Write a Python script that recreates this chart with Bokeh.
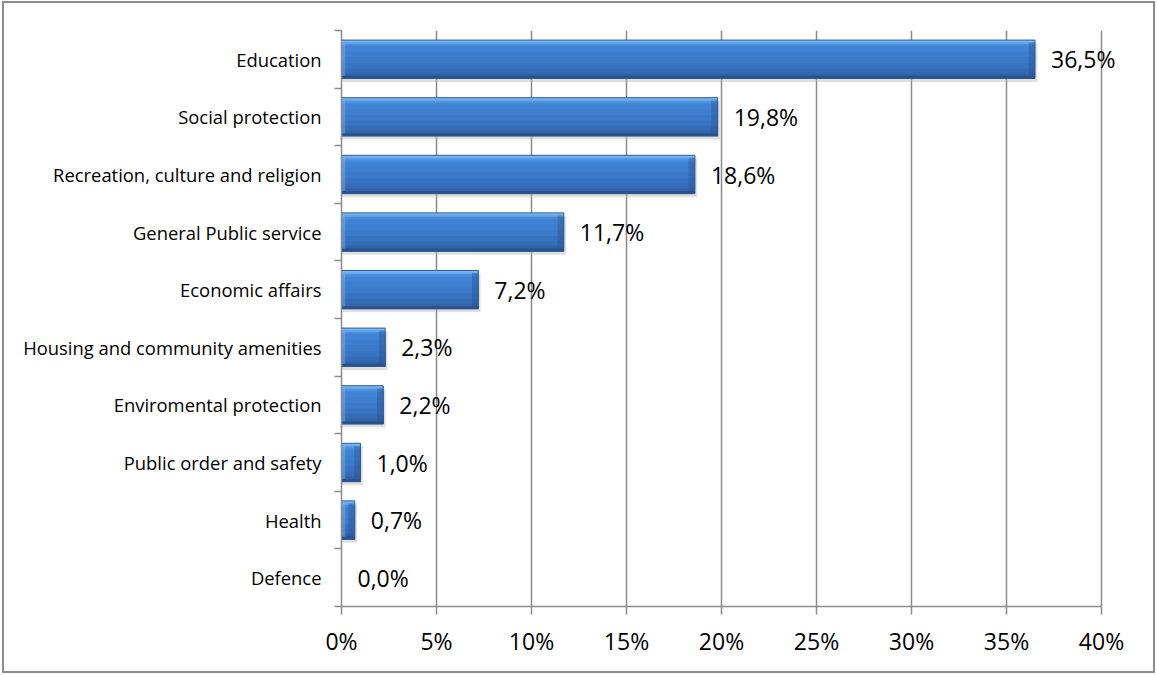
from bokeh.plotting import figure
from bokeh.models import Range1d, FixedTicker, ColumnDataSource, Label
from bokeh.embed import file_html
from bokeh.resources import INLINE

# ---------------- data ----------------
categories = [
    "Education",
    "Social protection",
    "Recreation, culture and religion",
    "General Public service",
    "Economic affairs",
    "Housing and community amenities",
    "Enviromental protection",
    "Public order and safety",
    "Health",
    "Defence",
]
shares = [36.5, 19.8, 18.6, 11.7, 7.2, 2.3, 2.2, 1.0, 0.7, 0.0]
share_labels = ["36,5%", "19,8%", "18,6%", "11,7%", "7,2%", "2,3%", "2,2%", "1,0%", "0,7%", "0,0%"]
x_ticks = [0, 5, 10, 15, 20, 25, 30, 35, 40]
x_tick_labels = ["0%", "5%", "10%", "15%", "20%", "25%", "30%", "35%", "40%"]

n = len(categories)
centers = [i + 0.5 for i in range(n)]
boundaries = [i for i in range(n + 1)]
BAR_H = 0.667

GRID = "#8a8a8a"
FONT = "Open Sans"

# frame is 807 px wide; the axis itself spans 0..40 over 760 px
X_MAX = x_ticks[-1]
x_end = X_MAX * 807 / 760

p = figure(
    width=1149, height=668,
    x_range=Range1d(0, x_end), y_range=Range1d(n, 0),
    output_backend="svg", toolbar_location=None,
    min_border_left=337, min_border_right=5,
    min_border_top=27, min_border_bottom=65,
)
p.styles = {"outline": "2px solid #8c8c8c", "margin-left": "4px", "margin-top": "3px"}
p.background_fill_color = "white"
p.border_fill_color = "white"
p.outline_line_color = None

# x axis
p.xaxis.bounds = (0, X_MAX)
p.xaxis.ticker = FixedTicker(ticks=x_ticks, minor_ticks=[])
p.xaxis.major_label_overrides = {t: l for t, l in zip(x_ticks, x_tick_labels)}
p.xaxis.axis_line_color = GRID
p.xaxis.axis_line_width = 1.5
p.xaxis.major_tick_line_color = GRID
p.xaxis.major_tick_line_width = 1.5
p.xaxis.major_tick_out = 8
p.xaxis.major_tick_in = 0
p.xaxis.minor_tick_line_color = None
p.xaxis.major_label_text_font = FONT
p.xaxis.major_label_text_font_size = "23px"
p.xaxis.major_label_text_color = "black"
p.xaxis.major_label_standoff = 10

# y axis: labels at centers, ticks at band boundaries
p.yaxis.ticker = FixedTicker(ticks=centers, minor_ticks=boundaries)
p.yaxis.major_label_overrides = {c: cat for c, cat in zip(centers, categories)}
p.yaxis.axis_line_color = GRID
p.yaxis.axis_line_width = 1.5
p.yaxis.major_tick_line_color = None
p.yaxis.major_tick_out = 0
p.yaxis.major_tick_in = 0
p.yaxis.minor_tick_line_color = GRID
p.yaxis.minor_tick_line_width = 1.5
p.yaxis.minor_tick_out = 7
p.yaxis.minor_tick_in = 0
p.yaxis.major_label_text_font = FONT
p.yaxis.major_label_text_font_size = "18.4px"
p.yaxis.major_label_text_color = "black"
p.yaxis.major_label_standoff = 13

p.xgrid.grid_line_color = GRID
p.xgrid.grid_line_width = 1.5
p.ygrid.grid_line_color = None

# shadow
p.hbar(y=[c + 0.06 for c in centers], height=BAR_H, left=0,
       right=[s + 0.12 if s > 0 else 0 for s in shares],
       fill_color="#b8b8b8", fill_alpha=0.45, line_color=None)

# bar body: vertical gradient painted as overlapping strips (each to the bar bottom)
strips = [
    (0.00, "#7ab9f5"),
    (0.05, "#62a3ea"),
    (0.10, "#4a8cdc"),
    (0.16, "#4082d3"),
    (0.30, "#3e7ecf"),
    (0.45, "#3b79c9"),
    (0.60, "#3873c1"),
    (0.74, "#356cb6"),
    (0.86, "#3263a8"),
    (0.93, "#2b5189"),
]
for t, col in strips:
    ys = [c - BAR_H / 2 + (t + 1.0) / 2 * BAR_H for c in centers]
    p.hbar(y=ys, height=(1.0 - t) * BAR_H, left=0, right=shares,
           fill_color=col, line_color=None)

# right bevel (darker) and left bevel (lighter)
p.hbar(y=centers, height=BAR_H * 0.86, left=[max(0, s - 0.33) for s in shares],
       right=shares, fill_color="#254d85", fill_alpha=0.35, line_color=None)
p.hbar(y=centers, height=BAR_H * 0.86, left=0, right=[min(s, 0.2) for s in shares],
       fill_color="#8cc4f8", fill_alpha=0.35, line_color=None)

# bar outline
src_out = ColumnDataSource(dict(y=[c for c, s in zip(centers, shares) if s > 0],
                                r=[s for s in shares if s > 0]))
p.hbar(y="y", height=BAR_H, left=0, right="r", source=src_out,
       fill_color=None, line_color="#2d5a94", line_width=1)

# value labels
for s, c, t in zip(shares, centers, share_labels):
    p.add_layout(Label(x=s, y=c, text=t, x_offset=16,
                       text_baseline="middle", text_align="left",
                       text_font=FONT, text_font_size="23px", text_color="black"))

open("out.html", "w").write(file_html(p, INLINE))
